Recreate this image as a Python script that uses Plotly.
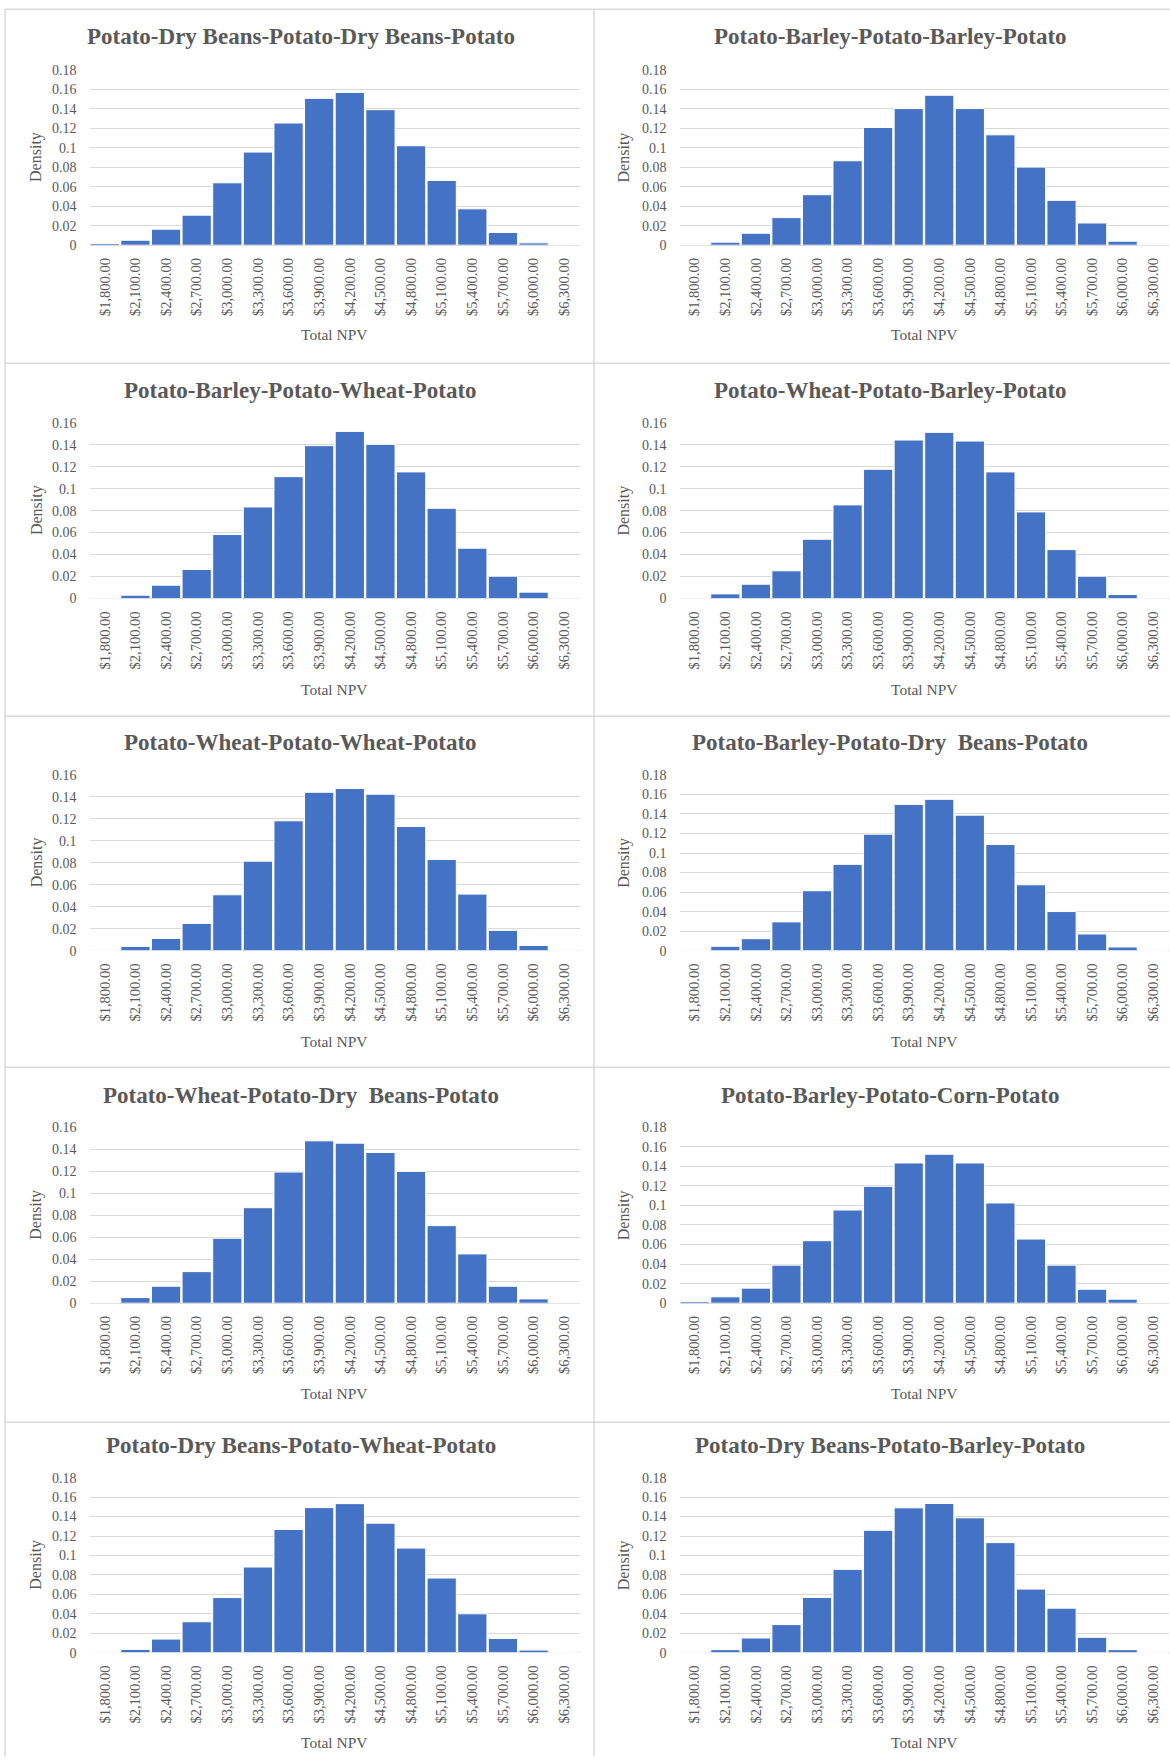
import plotly.graph_objects as go

# ---------------- data ----------------
categories = ["$1,800.00", "$2,100.00", "$2,400.00", "$2,700.00", "$3,000.00", "$3,300.00",
              "$3,600.00", "$3,900.00", "$4,200.00", "$4,500.00", "$4,800.00", "$5,100.00",
              "$5,400.00", "$5,700.00", "$6,000.00", "$6,300.00"]

titles = [
    "Potato-Dry Beans-Potato-Dry Beans-Potato",
    "Potato-Barley-Potato-Barley-Potato",
    "Potato-Barley-Potato-Wheat-Potato",
    "Potato-Wheat-Potato-Barley-Potato",
    "Potato-Wheat-Potato-Wheat-Potato",
    "Potato-Barley-Potato-Dry  Beans-Potato",
    "Potato-Wheat-Potato-Dry  Beans-Potato",
    "Potato-Barley-Potato-Corn-Potato",
    "Potato-Dry Beans-Potato-Wheat-Potato",
    "Potato-Dry Beans-Potato-Barley-Potato",
]

dry_dry = [0.0017, 0.0051, 0.0164, 0.0308, 0.0640, 0.0955, 0.1253, 0.1506, 0.1567, 0.1390,
           0.1020, 0.0664, 0.0373, 0.0130, 0.0024, 0.0]
barley_barley = [0.0, 0.0031, 0.0123, 0.0283, 0.0518, 0.0866, 0.1207, 0.1401, 0.1538, 0.1401,
                 0.1132, 0.0801, 0.0460, 0.0228, 0.0041, 0.0]
barley_wheat = [0.0, 0.0030, 0.0121, 0.0264, 0.0582, 0.0833, 0.1109, 0.1391, 0.1521, 0.1403,
                0.1152, 0.0821, 0.0458, 0.0203, 0.0058, 0.0]
wheat_barley = [0.0, 0.0042, 0.0130, 0.0252, 0.0539, 0.0852, 0.1176, 0.1442, 0.1512, 0.1433,
                0.1152, 0.0788, 0.0445, 0.0203, 0.0036, 0.0]
wheat_wheat = [0.0, 0.0039, 0.0112, 0.0248, 0.0509, 0.0815, 0.1182, 0.1442, 0.1476, 0.1424,
               0.1130, 0.0830, 0.0515, 0.0185, 0.0048, 0.0]
barley_dry = [0.0, 0.0045, 0.0123, 0.0295, 0.0614, 0.0884, 0.1193, 0.1498, 0.1550, 0.1388,
              0.1087, 0.0675, 0.0401, 0.0171, 0.0038, 0.0]
wheat_dry = [0.0, 0.0051, 0.0154, 0.0287, 0.0590, 0.0868, 0.1192, 0.1476, 0.1455, 0.1370,
             0.1198, 0.0705, 0.0448, 0.0154, 0.0039, 0.0]
barley_corn = [0.0017, 0.0065, 0.0154, 0.0389, 0.0639, 0.0953, 0.1195, 0.1434, 0.1523, 0.1434,
               0.1025, 0.0656, 0.0389, 0.0143, 0.0041, 0.0]
dry_wheat = [0.0, 0.0034, 0.0140, 0.0318, 0.0567, 0.0881, 0.1267, 0.1492, 0.1533, 0.1332,
             0.1076, 0.0768, 0.0400, 0.0147, 0.0027, 0.0]
dry_barley = [0.0, 0.0031, 0.0151, 0.0289, 0.0568, 0.0857, 0.1259, 0.1490, 0.1535, 0.1387,
              0.1132, 0.0654, 0.0458, 0.0158, 0.0031, 0.0]

series = [dry_dry, barley_barley, barley_wheat, wheat_barley, wheat_wheat,
          barley_dry, wheat_dry, barley_corn, dry_wheat, dry_barley]
y_max = [0.18, 0.18, 0.16, 0.16, 0.16, 0.18, 0.16, 0.18, 0.18, 0.18]
y_step = 0.02

# ---------------- layout geometry (pixels) ----------------
W, H = 1170, 1764
FONT = "Liberation Serif"
GRAY = "#595959"
GRID = "#d9d9d9"
BAR = "#4472C4"

col_x = [(89.5, 579.5), (679.5, 1168.5)]
row_y = [(70.5, 246.0), (423.5, 599.3), (775.7, 951.5), (1128.0, 1304.0), (1478.5, 1653.5)]
title_y = [37.5, 391.7, 743.3, 1096.7, 1446.5]
npv_y = [335, 690, 1042, 1394, 1743]
title_x = [301, 890]
density_x = [36.5, 624]

# vertical calibration of the rendered page (observed = OFF + SC * design)
OFF, SC = 7.8, 0.9915

def px(x):
    return x / W

def py(y):
    yd = (y - OFF) / SC
    return 1 - yd / H

fig = go.Figure()
annotations = []
layout_axes = {}

for i, (title, vals, ym) in enumerate(zip(titles, series, y_max)):
    r, c = divmod(i, 2)
    n = i + 1
    xa = "x" if n == 1 else f"x{n}"
    ya = "y" if n == 1 else f"y{n}"
    fig.add_trace(go.Bar(
        x=categories, y=vals, xaxis=xa, yaxis=ya,
        marker=dict(color=BAR, line=dict(color="white", width=1)),
        showlegend=False, hoverinfo="x+y",
    ))
    x0, x1 = col_x[c]
    yt, yb = row_y[r]
    nticks = int(round(ym / y_step))
    tv = [round(k * y_step, 2) for k in range(nticks + 1)]
    layout_axes["xaxis" if n == 1 else f"xaxis{n}"] = dict(
        domain=[px(x0), px(x1)], anchor=ya, type="category",
        tickangle=-90, showgrid=False, zeroline=False, showline=False,
        ticks="", ticklabelstandoff=9,
        tickfont=dict(family=FONT, size=14.5, color=GRAY),
    )
    layout_axes["yaxis" if n == 1 else f"yaxis{n}"] = dict(
        domain=[py(yb), py(yt)], anchor=xa, range=[0, ym],
        tickvals=tv, ticktext=[f"{v:g}" for v in tv],
        showgrid=True, gridcolor=GRID, gridwidth=1,
        zeroline=True, zerolinecolor=GRID, zerolinewidth=1,
        showline=False, ticks="", ticklabelstandoff=12,
        tickfont=dict(family=FONT, size=14, color=GRAY),
    )
    annotations.append(dict(
        text=f"<b>{title}</b>", x=px(title_x[c]), y=py(title_y[r]),
        xref="paper", yref="paper", xanchor="center", yanchor="middle",
        showarrow=False, font=dict(family=FONT, size=23, color=GRAY),
    ))
    annotations.append(dict(
        text="Total NPV", x=px((x0 + x1) / 2), y=py(npv_y[r]),
        xref="paper", yref="paper", xanchor="center", yanchor="middle",
        showarrow=False, font=dict(family=FONT, size=15.5, color=GRAY),
    ))
    annotations.append(dict(
        text="Density", x=px(density_x[c]), y=py((yt + yb) / 2),
        xref="paper", yref="paper", xanchor="center", yanchor="middle",
        textangle=-90, showarrow=False, font=dict(family=FONT, size=16, color=GRAY),
    ))

# panel borders
shapes = []
for yy in [10, 364, 717, 1068, 1423]:
    shapes.append(dict(type="line", xref="paper", yref="paper",
                       x0=px(5), x1=1, y0=py(yy), y1=py(yy),
                       line=dict(color=GRID, width=1.5)))
for xx in [5, 594]:
    shapes.append(dict(type="line", xref="paper", yref="paper",
                       x0=px(xx), x1=px(xx), y0=py(10), y1=0,
                       line=dict(color=GRID, width=1.5)))

fig.update_layout(
    width=W, height=H, margin=dict(l=0, r=0, t=0, b=0),
    paper_bgcolor="white", plot_bgcolor="white",
    bargap=0.045, annotations=annotations, shapes=shapes,
    **layout_axes,
)

fig.write_html(
    "out.html",
    config={"displayModeBar": False},
    post_script="document.body.style.margin='0';document.body.style.overflow='hidden';",
)
